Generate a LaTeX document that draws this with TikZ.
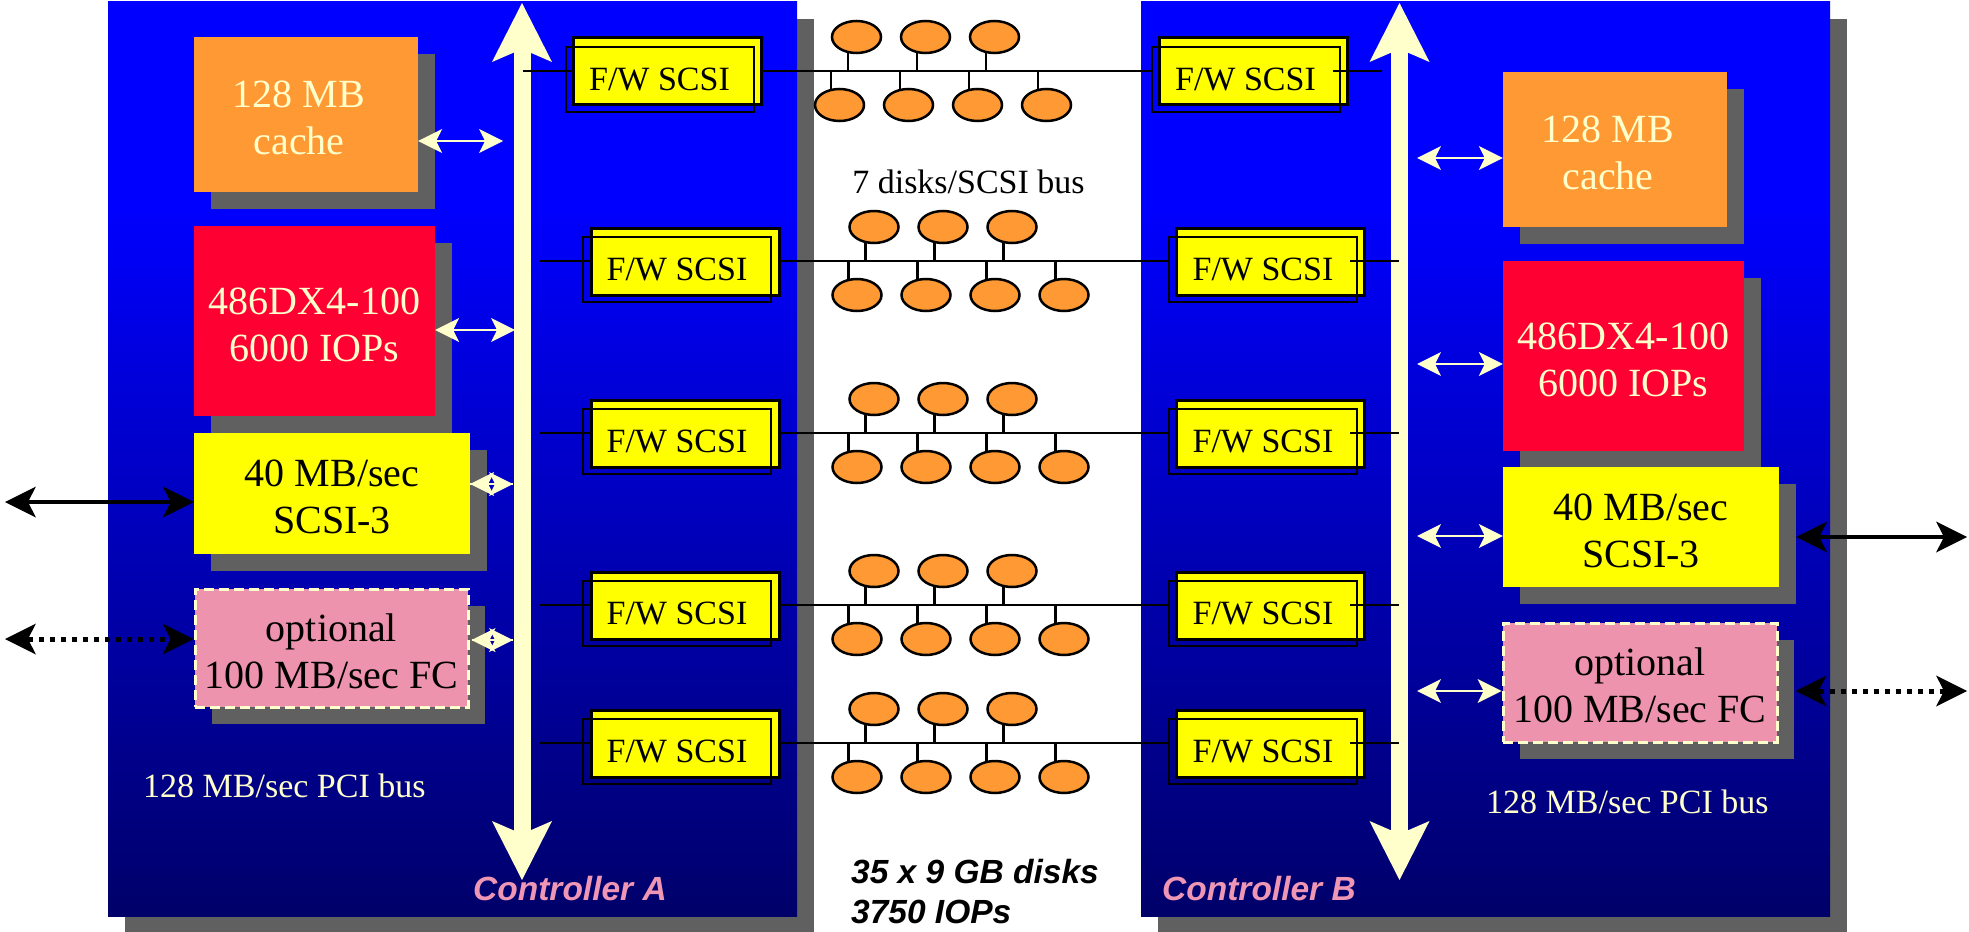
\documentclass[tikz,border=0pt]{standalone}
\usepackage{fontspec}
\setmainfont{Liberation Serif}
\newfontfamily\labelsans{Liberation Sans}
\usetikzlibrary{arrows.meta,shadows,calc,shapes.geometric}

\definecolor{panelblue}{RGB}{0,0,255}
\definecolor{panelnavy}{RGB}{0,0,105}
\definecolor{shadowgray}{RGB}{96,96,96}
\definecolor{cacheorange}{RGB}{255,153,51}
\definecolor{cpured}{RGB}{255,0,51}
\definecolor{scsiyellow}{RGB}{255,255,0}
\definecolor{fcpink}{RGB}{238,147,174}
\definecolor{cream}{RGB}{255,255,204}
\definecolor{ctrlpink}{RGB}{238,150,180}

% board background: bright blue in the upper fifth, then fading to navy
% (25bp = bottom edge, 75bp = top edge of the shaded path)
\pgfdeclareverticalshading{boardshade}{100bp}{color(0bp)=(panelnavy); color(25bp)=(panelnavy);
  color(64bp)=(panelblue); color(100bp)=(panelblue)}

\pgfdeclarelayer{backdrop}
\pgfdeclarelayer{wiring}
\pgfsetlayers{backdrop,wiring,main}

% pads the cache captions on the right so they sit a little left of centre
\newcommand{\padright}{\hspace*{14pt}}
% taller first line, so two-line captions sit slightly low in their boxes
\newcommand{\capline}{\rule{0pt}{34pt}}

\tikzset{
  boxshadow/.style={drop shadow={shadow xshift=17pt,shadow yshift=-17pt,fill=shadowgray,opacity=1}},
  panel/.style={rectangle,inner sep=0pt,minimum width=689pt,minimum height=914pt,
    shade,shading=boardshade,shading angle=0,boxshadow},
  hwunit/.style={rectangle,inner sep=0pt,align=center,font=\fontsize{40pt}{47pt}\selectfont,boxshadow},
  cacheunit/.style={hwunit,fill=cacheorange,text=cream,minimum width=224pt,minimum height=155pt},
  cpuunit/.style={hwunit,fill=cpured,text=cream,minimum width=241pt,minimum height=190pt},
  scsiunit/.style={hwunit,fill=scsiyellow,text=black,minimum width=276pt,minimum height=121pt},
  fcunit/.style={hwunit,fill=fcpink,text=black,draw=cream,line width=3pt,
    dash pattern=on 10pt off 5pt,minimum width=273pt,minimum height=118pt},
  pcibus/.style={draw=cream,line width=17pt,
    >={Stealth[length=59pt,width=60pt,inset=13pt,line width=0pt]},<->},
  fwfront/.style={rectangle,inner sep=0pt,fill=scsiyellow,draw=black,line width=3pt,
    minimum width=188pt,minimum height=67pt},
  fwback/.style={rectangle,inner sep=0pt,draw=black,line width=2pt,
    minimum width=188pt,minimum height=65pt,font=\fontsize{34pt}{40pt}\selectfont},
  scsiline/.style={draw=black,line width=2.2pt},
  disk/.style={ellipse,inner sep=0pt,draw=black,line width=2.5pt,fill=cacheorange,
    minimum width=49pt,minimum height=32pt},
  linkarrow/.style={draw=cream,line width=2.5pt,
    >={Stealth[length=24pt,width=24pt,inset=6pt,line width=0pt]},<->},
  linkhead/.style={draw=cream,line width=2.5pt,
    -{Stealth[length=24pt,width=24pt,inset=6pt,line width=0pt]}},
  hostarrow/.style={draw=black,line width=4pt,
    >={Stealth[length=31pt,width=31pt,inset=8pt,line width=0pt]},<->},
  optarrow/.style={hostarrow,line width=5pt,dash pattern=on 5pt off 6pt},
  plainlabel/.style={text=black,font=\fontsize{34pt}{40pt}\selectfont,inner sep=0pt},
  buslabel/.style={text=cream,font=\fontsize{34pt}{40pt}\selectfont,anchor=base west,inner sep=0pt},
  ctrllabel/.style={text=ctrlpink,font=\labelsans\bfseries\itshape\fontsize{33.5pt}{40pt}\selectfont,
    anchor=base west,inner sep=0pt},
  disklabel/.style={text=black,font=\labelsans\bfseries\itshape\fontsize{33.5pt}{40pt}\selectfont,
    anchor=base west,inner sep=0pt},
}

\begin{document}
\begin{tikzpicture}[x=1pt,y=-1pt]
\useasboundingbox (0,0) rectangle (1969,931);

% controller boards and their PCI buses
\begin{pgfonlayer}{backdrop}
  \node[panel] (ctrlA) at (452.5,459) {};
  \node[panel] (ctrlB) at (1485.5,459) {};
  \coordinate (busAtop) at (522,3);
  \coordinate (busAbot) at (522,880);
  \coordinate (busBtop) at (1399.5,3);
  \coordinate (busBbot) at (1399.5,880);
  \draw[pcibus] (busAbot) -- (busAtop);
  \draw[pcibus] (busBbot) -- (busBtop);
\end{pgfonlayer}

% on-board units, controller A
\node[cacheunit] (cacheA) at (306,114.5) {\capline128 MB\padright\\cache\padright};
\node[cpuunit] (cpuA) at (314.5,321) {\capline486DX4-100\\6000 IOPs};
\node[scsiunit] (scsiA) at (332,493.5) {\capline40 MB/sec\\SCSI-3};
\node[fcunit] (fcA) at (331.5,648) {\capline optional\\100 MB/sec FC};

% on-board units, controller B
\node[cacheunit] (cacheB) at (1615,149.5) {\capline128 MB\padright\\cache\padright};
\node[cpuunit] (cpuB) at (1623.5,356) {\capline486DX4-100\\6000 IOPs};
\node[scsiunit,minimum height=120pt] (scsiB) at (1641,527) {\capline40 MB/sec\\SCSI-3};
\node[fcunit,minimum width=274pt,minimum height=119pt] (fcB) at (1640,682.5) {\capline optional\\100 MB/sec FC};

% unit-to-bus links
\coordinate (tapA1) at (503,141);
\coordinate (tapA2) at (515,330);
\coordinate (tapA3) at (513,484);
\coordinate (tapA4) at (513,640);
\draw[linkarrow] (cacheA.east |- tapA1) -- (tapA1);
\draw[linkarrow] (cpuA.east |- tapA2) -- (tapA2);
% short links: the two heads overlap, so each direction is drawn on its own
\draw[linkhead] (tapA3) -- (scsiA.east |- tapA3);
\draw[linkhead] (scsiA.east |- tapA3) -- (tapA3);
\draw[linkhead] (tapA4) -- ($(fcA.east |- tapA4)+(2,0)$);
\draw[linkhead] ($(fcA.east |- tapA4)+(2,0)$) -- (tapA4);

\coordinate (tapB1) at (1417,158);
\coordinate (tapB2) at (1417,364);
\coordinate (tapB3) at (1417,536);
\coordinate (tapB4) at (1417,691);
\draw[linkarrow] (tapB1) -- (cacheB.west |- tapB1);
\draw[linkarrow] (tapB2) -- (cpuB.west |- tapB2);
\draw[linkarrow] (tapB3) -- (scsiB.west |- tapB3);
\draw[linkarrow] (tapB4) -- (fcB.west |- tapB4);

% host connections
\coordinate (hostA) at (5,502);
\coordinate (optA) at (5,639);
\draw[hostarrow] (hostA) -- (scsiA.west |- hostA);
\draw[optarrow] (optA) -- (fcA.west |- optA);
\coordinate (hostB) at (1967,537);
\coordinate (optB) at (1967,691);
\draw[hostarrow] ($(scsiB.east |- hostB)+(17,0)$) -- (hostB);
\draw[optarrow] ($(fcB.east |- optB)+(17,0)$) -- (optB);

% five shared SCSI strings with seven disks each
\foreach \r/\L/\dx in {1/71/-17.5,2/261/0,3/433/0,4/605/0,5/743/0}{
  \coordinate (tapRowA\r) at ({540+(\dx)},\L);
  \coordinate (tapRowB\r) at ({1399+(\dx)},\L);
  \node[fwfront] (fwA\r) at ({685+(\dx)},{\L+0.5}) {};
  \node[fwback] (fwAb\r) at ({677+(\dx)},{\L+8.5}) {F/W SCSI};
  \node[fwfront] (fwB\r) at ({1270.5+(\dx)},{\L+0.5}) {};
  \node[fwback] (fwBb\r) at ({1263+(\dx)},{\L+8.5}) {F/W SCSI};
  \begin{pgfonlayer}{wiring}
    \draw[scsiline] (tapRowA\r) -- (fwBb\r.west |- tapRowA\r);
  \end{pgfonlayer}
  \draw[scsiline] ($(fwB\r.east |- tapRowB\r)+(-16,0)$) -- (tapRowB\r);
  \foreach \k/\ux in {1/874,2/943,3/1012}{
    \node[disk] (du\r\k) at ({\ux+(\dx)},{\L-34}) {};
    \begin{pgfonlayer}{wiring}
      \draw[scsiline] ($(du\r\k.center)+(-8.5,15)$) -- ($(du\r\k.center)+(-8.5,34)$);
    \end{pgfonlayer}
  }
  \foreach \k/\ux in {1/857,2/926,3/995,4/1064}{
    \node[disk] (dl\r\k) at ({\ux+(\dx)},{\L+34}) {};
    \begin{pgfonlayer}{wiring}
      \draw[scsiline] ($(dl\r\k.center)+(-8.5,-15)$) -- ($(dl\r\k.center)+(-8.5,-34)$);
    \end{pgfonlayer}
  }
}

% captions
\node[plainlabel,anchor=base] (perbus) at (968.5,193) {7 disks/SCSI bus};
\node[disklabel] (disktotal) at (851,883) {35 x 9 GB disks};
\node[disklabel] (iops) at (851,923) {3750 IOPs};
\node[buslabel] (pciA) at (143,797) {128 MB/sec PCI bus};
\node[buslabel] (pciB) at (1486,813) {128 MB/sec PCI bus};
\node[ctrllabel] (nameA) at (473,900) {Controller A};
\node[ctrllabel] (nameB) at (1162,900) {Controller B};
\end{tikzpicture}
\end{document}
